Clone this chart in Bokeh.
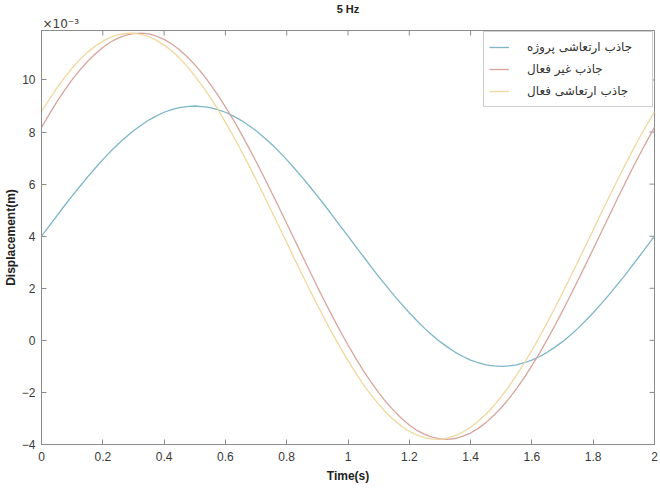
import math
from bokeh.plotting import figure
from bokeh.models import Range1d, FixedTicker, Legend, LegendItem, Title
from bokeh.embed import file_html
from bokeh.resources import INLINE

# time samples (s)
t = [round(0.025 * k, 3) for k in range(81)]

# displacement values (x 10^-3 m)
passive_project = [4.00, 4.39, 4.78, 5.17, 5.55, 5.91, 6.27, 6.61, 6.94, 7.25, 7.54,
                   7.80, 8.05, 8.26, 8.46, 8.62, 8.76, 8.86, 8.94, 8.98, 9.00,
                   8.98, 8.94, 8.86, 8.76, 8.62, 8.46, 8.26, 8.05, 7.80, 7.54,
                   7.25, 6.94, 6.61, 6.27, 5.91, 5.55, 5.17, 4.78, 4.39, 4.00,
                   3.61, 3.22, 2.83, 2.45, 2.09, 1.73, 1.39, 1.06, 0.75, 0.46,
                   0.20, -0.05, -0.26, -0.46, -0.62, -0.76, -0.86, -0.94, -0.98, -1.00,
                   -0.98, -0.94, -0.86, -0.76, -0.62, -0.46, -0.26, -0.05, 0.20, 0.46,
                   0.75, 1.06, 1.39, 1.73, 2.09, 2.45, 2.83, 3.22, 3.61, 4.00]
passive = [8.18, 8.68, 9.16, 9.60, 10.01, 10.38, 10.71, 11.00, 11.25, 11.46, 11.61,
           11.72, 11.78, 11.80, 11.77, 11.68, 11.56, 11.38, 11.16, 10.89, 10.59,
           10.24, 9.85, 9.43, 8.97, 8.49, 7.97, 7.43, 6.87, 6.29, 5.70,
           5.10, 4.49, 3.88, 3.27, 2.66, 2.06, 1.47, 0.90, 0.35, -0.18,
           -0.68, -1.16, -1.60, -2.01, -2.38, -2.71, -3.00, -3.25, -3.46, -3.61,
           -3.72, -3.78, -3.80, -3.77, -3.68, -3.56, -3.38, -3.16, -2.89, -2.59,
           -2.24, -1.85, -1.43, -0.97, -0.49, 0.03, 0.57, 1.13, 1.71, 2.30,
           2.90, 3.51, 4.12, 4.73, 5.34, 5.94, 6.53, 7.10, 7.65, 8.18]
active = [8.78, 9.25, 9.69, 10.09, 10.45, 10.78, 11.06, 11.30, 11.49, 11.64, 11.74,
          11.79, 11.80, 11.75, 11.66, 11.52, 11.34, 11.11, 10.84, 10.52, 10.16,
          9.77, 9.34, 8.88, 8.38, 7.86, 7.32, 6.76, 6.18, 5.58, 4.98,
          4.37, 3.76, 3.14, 2.54, 1.94, 1.36, 0.79, 0.24, -0.28, -0.78,
          -1.25, -1.69, -2.09, -2.45, -2.78, -3.06, -3.30, -3.49, -3.64, -3.74,
          -3.79, -3.80, -3.75, -3.66, -3.52, -3.34, -3.11, -2.84, -2.52, -2.16,
          -1.77, -1.34, -0.88, -0.38, 0.14, 0.68, 1.24, 1.82, 2.42, 3.02,
          3.63, 4.24, 4.86, 5.46, 6.06, 6.64, 7.21, 7.76, 8.28, 8.78]

labels = ["جاذب ارتعاشی پروژه", "جاذب غیر فعال", "جاذب ارتعاشی فعال"]
colors = ["#7db6c8", "#d8a49c", "#f0d89c"]

x_ticks = [0, 0.2, 0.4, 0.6, 0.8, 1, 1.2, 1.4, 1.6, 1.8, 2]
y_ticks = [-4, -2, 0, 2, 4, 6, 8, 10]
x_lim = (0, 2)
y_lim = (-4, 11.9)

axis_col = "#8c8c8c"
text_col = "#3a3a3a"

p = figure(frame_width=613, frame_height=414, x_range=Range1d(*x_lim),
           y_range=Range1d(*y_lim), output_backend="svg",
           toolbar_location=None)
p.min_border_top = 0
p.min_border_bottom = 0
p.min_border_left = 0
p.min_border_right = 6
p.background_fill_color = "white"
p.border_fill_color = "white"
p.xgrid.visible = False
p.ygrid.visible = False
p.outline_line_color = axis_col

for ax, ticks in ((p.xaxis[0], x_ticks), (p.yaxis[0], y_ticks)):
    ax.ticker = FixedTicker(ticks=ticks)
    ax.major_tick_in = 5
    ax.major_tick_out = 0
    ax.minor_tick_line_color = None
    ax.axis_line_color = axis_col
    ax.major_tick_line_color = axis_col
    ax.major_label_text_font = "Liberation Sans"
    ax.major_label_text_font_size = "12px"
    ax.major_label_text_color = text_col
    ax.axis_label_text_font = "Liberation Sans"
    ax.axis_label_text_font_size = "12px"
    ax.axis_label_text_font_style = "bold"
    ax.axis_label_text_color = "#222222"

p.xaxis.axis_label = "Time(s)"
p.xaxis.major_label_standoff = 7
p.xaxis.axis_label_standoff = 5
p.yaxis.axis_label = "Displacement(m)"
p.yaxis.major_label_standoff = 6
p.yaxis.axis_label_standoff = 1

# box ticks on the top and right edges (half of each dash is clipped by the frame)
p.scatter(x_ticks, [y_lim[1]] * len(x_ticks), marker="dash", size=10,
          angle=math.pi / 2, line_color=axis_col, line_width=1)
p.scatter([x_lim[1]] * len(y_ticks), y_ticks, marker="dash", size=10,
          line_color=axis_col, line_width=1)

# exponent note above the frame (left) and the title (centre)
p.add_layout(Title(text="×10⁻³", align="left", text_font="DejaVu Sans",
                   text_font_size="12px", text_font_style="normal",
                   text_color=text_col, standoff=0, offset=1), "above")
p.add_layout(Title(text="5 Hz", align="center", text_font="Liberation Sans",
                   text_font_size="11px", text_font_style="bold",
                   text_color="#222222", standoff=0, offset=0), "above")

renderers = []
for ys, c in zip((passive_project, passive, active), colors):
    renderers.append(p.line(t, ys, line_color=c, line_width=1.3))

legend = Legend(items=[LegendItem(label=l, renderers=[r]) for l, r in zip(labels, renderers)],
                location="top_right", margin=1, padding=5, spacing=2,
                glyph_width=20, glyph_height=20, label_standoff=18,
                label_width=120, label_height=20,
                label_text_font="DejaVu Sans", label_text_font_size="12px",
                label_text_color="#333333",
                border_line_color="#a0a0a0", background_fill_alpha=1)
p.add_layout(legend)

open("out.html", "w").write(file_html(p, INLINE))
